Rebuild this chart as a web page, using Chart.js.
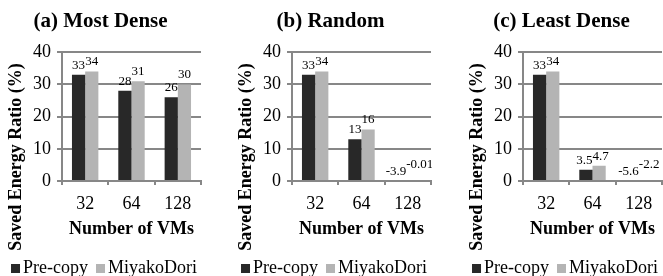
<!DOCTYPE html>
<html>
<head>
<meta charset="utf-8">
<script src="https://cdn.jsdelivr.net/npm/chart.js@4.4.1/dist/chart.umd.min.js"></script>
<style>
  html, body { margin: 0; padding: 0; background: #fff; }
  body { width: 663px; height: 276px; position: relative; overflow: hidden; }
  .panel { position: absolute; top: 0; width: 202px; height: 276px; }
</style>
</head>
<body>
<div class="panel" style="left:0px"><canvas id="c0" width="202" height="276"></canvas></div>
<div class="panel" style="left:230px"><canvas id="c1" width="202" height="276"></canvas></div>
<div class="panel" style="left:461px"><canvas id="c2" width="202" height="276"></canvas></div>
<script>
"use strict";

// ── data ──────────────────────────────────────────────────────────────────────
const categories   = ["32", "64", "128"];
const panelTitles  = ["(a) Most Dense", "(b) Random", "(c) Least Dense"];
const seriesNames  = ["Pre-copy", "MiyakoDori"];

const preCopyDense  = [33, 28, 26];
const miyakoDense   = [34, 31, 30];
const preCopyRandom = [33, 13, -3.9];
const miyakoRandom  = [34, 16, -0.01];
const preCopyLeast  = [33, 3.5, -5.6];
const miyakoLeast   = [34, 4.7, -2.2];

const yMin = 0, yMax = 40, yStep = 10;
const yTitle = "Saved Energy Ratio (%)";
const xTitle = "Number of VMs";

// ── styles ────────────────────────────────────────────────────────────────────
const SERIF = "'Liberation Serif', 'Times New Roman', serif";
const DARK  = "#282828";
const LIGHT = "#b4b4b4";
const GRID  = "#878787";

// value labels above each bar (negatives sit on the zero line)
const valueLabels = {
  id: "valueLabels",
  afterDatasetsDraw(chart) {
    const ctx = chart.ctx;
    const y = chart.scales.y;
    ctx.save();
    ctx.font = "13px " + SERIF;
    ctx.fillStyle = "#000";
    ctx.textAlign = "center";
    ctx.textBaseline = "bottom";
    const n = chart.data.labels.length;
    for (let i = 0; i < n; i++) {
      const items = chart.data.datasets.map((ds, d) => {
        const bar = chart.getDatasetMeta(d).data[i];
        const v = ds.data[i];
        const text = String(v);
        return { x: bar.x, y: y.getPixelForValue(Math.max(v, 0)) - 3, text, w: ctx.measureText(text).width };
      });
      // push neighbours apart when they collide; lift the second one if it is a big clash
      for (let k = 1; k < items.length; k++) {
        const a = items[k - 1], b = items[k];
        const overlap = (a.x + a.w / 2) - (b.x - b.w / 2);
        if (overlap > 0 && Math.abs(a.y - b.y) < 10) {
          a.x -= overlap / 2; b.x += overlap / 2;
          if (overlap > 5) b.y = a.y - 7;
        }
      }
      items.forEach(it => ctx.fillText(it.text, it.x, it.y));
    }
    ctx.restore();
  },
};

// rotated y title, placed like the original (lower than the plot centre)
const yTitlePlugin = {
  id: "yTitlePlugin",
  afterDraw(chart) {
    const ctx = chart.ctx;
    ctx.save();
    ctx.translate(16, 157);
    ctx.rotate(-Math.PI / 2);
    ctx.font = "bold 18px " + SERIF;
    ctx.fillStyle = "#000";
    ctx.textAlign = "center";
    ctx.textBaseline = "middle";
    ctx.fillText(yTitle, 0, 0);
    ctx.restore();
  },
};

// compact legend: small square, tight gap, on one line at the bottom
const compactLegend = {
  id: "compactLegend",
  afterDraw(chart) {
    const ctx = chart.ctx;
    const box = 9, gap = 3, itemGap = 8, baseline = 273;
    ctx.save();
    ctx.font = "18px " + SERIF;
    ctx.textBaseline = "alphabetic";
    ctx.textAlign = "left";
    const items = chart.data.datasets.map(ds => ({
      text: ds.label, color: ds.backgroundColor, w: ctx.measureText(ds.label).width,
    }));
    const total = items.reduce((s, it) => s + box + gap + it.w, 0) + itemGap * (items.length - 1);
    let x = chart.width / 2 + 3 - total / 2;
    items.forEach(it => {
      ctx.fillStyle = it.color;
      ctx.fillRect(x, baseline - box, box, box);
      ctx.fillStyle = "#000";
      ctx.fillText(it.text, x + box + gap, baseline);
      x += box + gap + it.w + itemGap;
    });
    ctx.restore();
  },
};

function makePanel(id, title, pre, miyako) {
  return new Chart(document.getElementById(id), {
    type: "bar",
    data: {
      labels: categories,
      datasets: [
        { label: seriesNames[0], data: pre,    backgroundColor: DARK,  borderWidth: 0,
          categoryPercentage: 0.57, barPercentage: 1.0 },
        { label: seriesNames[1], data: miyako, backgroundColor: LIGHT, borderWidth: 0,
          categoryPercentage: 0.57, barPercentage: 1.0 },
      ],
    },
    options: {
      responsive: false,
      animation: false,
      layout: { padding: { left: 0, right: 1, top: 0, bottom: 26 } },
      plugins: {
        title: {
          display: true, text: title, color: "#000",
          font: { family: SERIF, size: 21, weight: "bold" },
          padding: { top: 9, bottom: 18 },
        },
        legend: { display: false },
        tooltip: { enabled: false },
      },
      scales: {
        x: {
          grid: { drawOnChartArea: false, drawTicks: true, tickLength: 4, color: GRID, lineWidth: 2 },
          border: { display: true, color: GRID, width: 2 },
          ticks: { font: { family: SERIF, size: 18 }, color: "#000", padding: 8 },
          title: {
            display: true, text: xTitle, color: "#000",
            font: { family: SERIF, size: 18, weight: "bold" },
            padding: { top: 0, bottom: 10 },
          },
          afterFit(s) { s.height = 69; },
        },
        y: {
          min: yMin, max: yMax,
          ticks: { stepSize: yStep, autoSkip: false, font: { family: SERIF, size: 18 }, color: "#000", padding: 6 },
          grid: { color: GRID, lineWidth: 2, tickLength: 5 },
          border: { color: GRID, width: 2 },
          afterFit(s) { s.width = 62; },
        },
      },
    },
    plugins: [valueLabels, yTitlePlugin, compactLegend],
  });
}

makePanel("c0", panelTitles[0], preCopyDense,  miyakoDense);
makePanel("c1", panelTitles[1], preCopyRandom, miyakoRandom);
makePanel("c2", panelTitles[2], preCopyLeast,  miyakoLeast);
</script>
</body>
</html>
